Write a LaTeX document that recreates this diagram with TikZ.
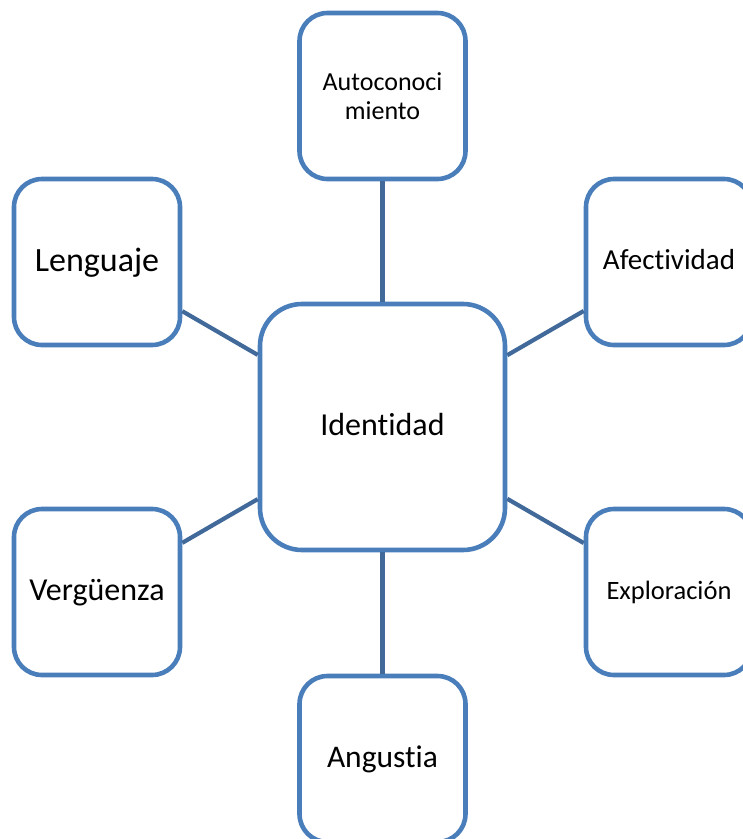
\documentclass[tikz,border=0pt]{standalone}
\usepackage{fontspec}
\setmainfont{Carlito}[RawFeature={-liga;-clig;-calt;-dlig;-rlig}]
\definecolor{boxblue}{HTML}{4A7EBB}
\definecolor{linkblue}{HTML}{41699A}
\tikzset{
  bx/.style={draw=boxblue, line width=4.6pt, rounded corners=28pt, fill=white,
    minimum width=166pt, minimum height=166pt, inner sep=0pt, align=center, text=black},
  bigbx/.style={bx, rounded corners=42pt, minimum width=245pt, minimum height=246pt},
  link/.style={draw=linkblue, line width=4.2pt}
}
\begin{document}
\begin{tikzpicture}[x=1pt,y=-1pt]
\useasboundingbox (0,0) rectangle (743,839);
\clip (0,0) rectangle (743,839);
\node[bigbx, font=\fontsize{32pt}{36pt}\selectfont, text height=24pt, text depth=6.4pt] (I) at (382.5,427) {Identidad};
\node[bx, font=\fontsize{26pt}{29pt}\selectfont] (A) at (382.5,96) {Autoconoci\\miento};
\node[bx, font=\fontsize{34pt}{38pt}\selectfont, text height=25.5pt, text depth=6.8pt] (L) at (97,262) {Lenguaje};
\node[bx, font=\fontsize{29pt}{33pt}\selectfont, text height=21.75pt, text depth=5.8pt] (F) at (669,262) {Afectividad};
\node[bx, font=\fontsize{32pt}{36pt}\selectfont, text height=24pt, text depth=6.4pt] (V) at (97,592) {Vergüenza};
\node[bx, font=\fontsize{26.5pt}{30pt}\selectfont, text height=19.9pt, text depth=5.3pt] (E) at (669,592) {Exploración};
\node[bx, font=\fontsize{31.5pt}{35pt}\selectfont, text height=23.6pt, text depth=6.3pt] (G) at (382.5,759) {Angustia};
\draw[link] (I) -- (A);
\draw[link] (I) -- (L);
\draw[link] (I) -- (F);
\draw[link] (I) -- (V);
\draw[link] (I) -- (E);
\draw[link] (I) -- (G);
\end{tikzpicture}
\end{document}
